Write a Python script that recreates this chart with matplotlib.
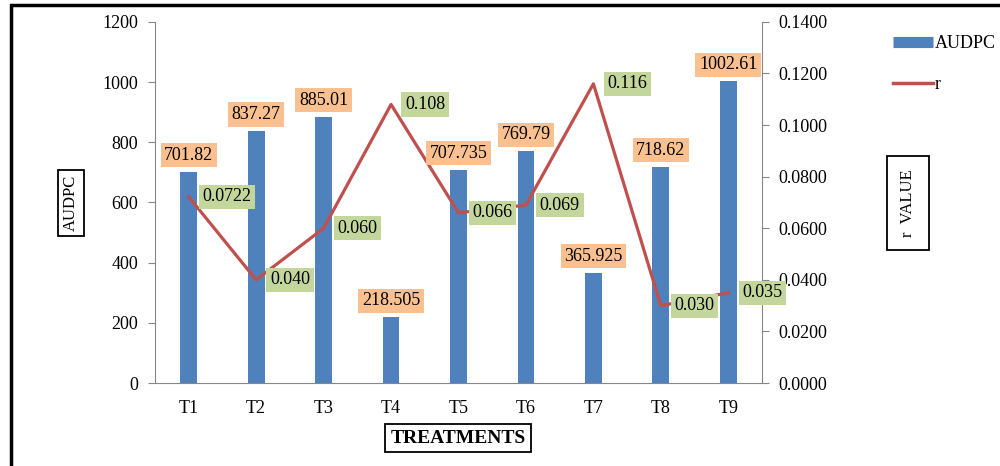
import matplotlib.pyplot as plt
from matplotlib.lines import Line2D
from matplotlib.patches import Rectangle

plt.rcParams['font.family'] = ['Liberation Serif', 'DejaVu Serif']

# --- data ---
treatments = ['T1', 'T2', 'T3', 'T4', 'T5', 'T6', 'T7', 'T8', 'T9']
audpc = [701.82, 837.27, 885.01, 218.505, 707.735, 769.79, 365.925, 718.62, 1002.61]
audpc_labels = ['701.82', '837.27', '885.01', '218.505', '707.735', '769.79', '365.925', '718.62', '1002.61']
r_value = [0.0722, 0.040, 0.060, 0.108, 0.066, 0.069, 0.116, 0.030, 0.035]
r_labels = ['0.0722', '0.040', '0.060', '0.108', '0.066', '0.069', '0.116', '0.030', '0.035']

bar_color = '#4F81BD'
line_color = '#C0504D'
axis_grey = '#868686'
fs = 13

fig = plt.figure(figsize=(10, 4.66), dpi=100)
ax = fig.add_axes([0.155, 0.178, 0.607, 0.775])
ax2 = ax.twinx()

x = list(range(len(treatments)))
ax.bar(x, audpc, width=0.25, color=bar_color)
ax2.plot(x, r_value, color=line_color, lw=2.3)

ax.set_xlim(-0.5, len(treatments) - 0.5)
ax.set_ylim(0, 1200)
ax.set_yticks(range(0, 1201, 200))
ax2.set_ylim(0, 0.14)
ax2.set_yticks([i * 0.02 for i in range(8)])
ax2.set_yticklabels([f'{i * 0.02:.4f}' for i in range(8)])

ax.set_xticks(x)
ax.set_xticklabels(treatments)

for a in (ax, ax2):
    a.spines['top'].set_visible(False)
    for s in a.spines.values():
        s.set_color(axis_grey)
    a.tick_params(labelsize=fs, colors='black', pad=7)
    a.tick_params(axis='y', color=axis_grey, length=5)
ax.spines['right'].set_visible(False)
ax2.spines['left'].set_visible(False)
ax2.spines['bottom'].set_visible(False)
ax.tick_params(axis='x', length=0, pad=12)

# value labels on the bars (orange boxes), drawn on the top axes
for xi, v, lab in zip(x, audpc, audpc_labels):
    ax2.annotate(lab, (xi, v), xycoords=ax.transData, xytext=(0, 12),
                 textcoords='offset points', ha='center', va='center', fontsize=fs,
                 bbox=dict(boxstyle='square,pad=0.2', fc='#FAC090', ec='none'))

# r values beside the line points (green boxes)
for xi, v, lab in zip(x, r_value, r_labels):
    ax2.annotate(lab, (xi, v), xytext=(10, 0), textcoords='offset points',
                 ha='left', va='center', fontsize=fs,
                 bbox=dict(boxstyle='square,pad=0.2', fc='#C3D69B', ec='none'))

# boxed axis titles
box = dict(boxstyle='square,pad=0.3', fc='white', ec='black', lw=1.3)
fig.text(0.071, 0.565, 'AUDPC', rotation=90, ha='center', va='center', fontsize=12, bbox=box)
fig.text(0.908, 0.565, 'r  VALUE', rotation=90, ha='center', va='center', fontsize=12,
         bbox=dict(boxstyle='square,pad=0.8', fc='white', ec='black', lw=1.3))
fig.text(0.458, 0.06, 'TREATMENTS', ha='center', va='center', fontsize=14,
         fontweight='bold', bbox=box)

handles = [Line2D([], [], color=bar_color, lw=8, solid_capstyle='butt'),
           Line2D([], [], color=line_color, lw=2.5)]
fig.legend(handles, ['AUDPC', 'r'], loc='upper left', bbox_to_anchor=(0.877, 0.96),
           frameon=False, fontsize=fs, handlelength=2.2, handletextpad=0.1, labelspacing=1.35)

# outer frame
fig.add_artist(Rectangle((0.011, -0.05), 1.1, 1.04, transform=fig.transFigure,
                         fill=False, ec='black', lw=2.5))

fig.savefig('out.png', dpi=100)
